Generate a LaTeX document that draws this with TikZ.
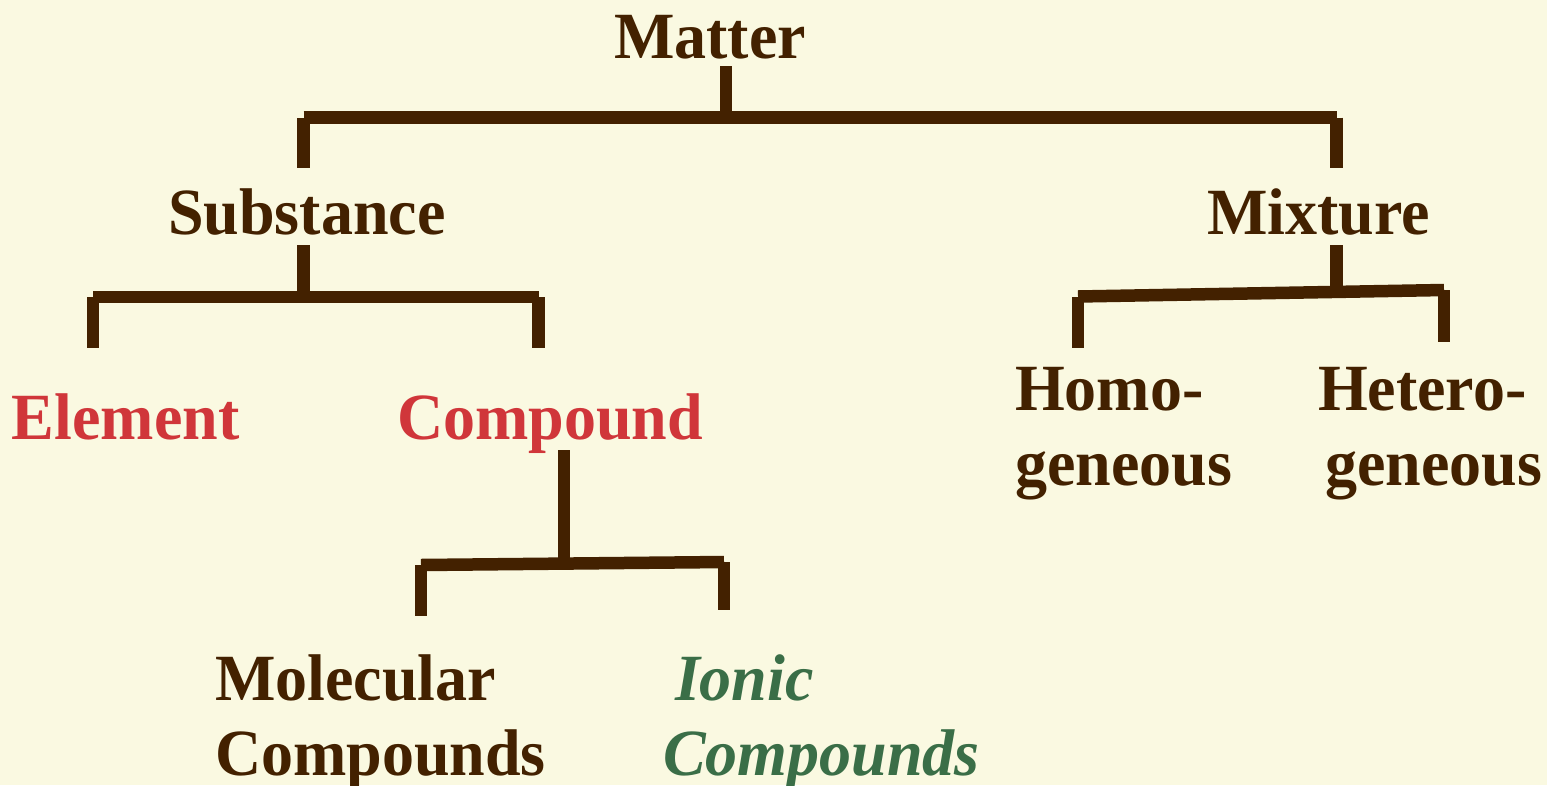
\documentclass[tikz,border=0pt]{standalone}
\usepackage{fontspec}
\newfontfamily\lbl{Liberation Serif}[FakeStretch=0.97]
\definecolor{bg}{HTML}{FAF9E1}
\definecolor{brn}{HTML}{432100}
\definecolor{rd}{HTML}{D0363A}
\definecolor{grn}{HTML}{3A6E47}
\newcommand{\twoline}[2]{\vtop{\baselineskip=75pt\hbox{#1}\hbox{#2}}}
\tikzset{
  lab/.style={inner sep=0pt, outer sep=0pt, anchor=base west, font=\lbl\fontsize{66}{75}\selectfont\bfseries, text=brn},
  redlab/.style={lab, text=rd},
  grnlab/.style={lab, text=grn, font=\lbl\fontsize{66}{75}\selectfont\bfseries\itshape},
  br/.style={draw=brn, line width=12.5pt, line cap=butt}
}
\begin{document}
\begin{tikzpicture}[x=1pt,y=-1pt]
\fill[bg] (0,0) rectangle (1547,785);
\useasboundingbox (0,0) rectangle (1547,785);
% labels
\node[lab] (matter) at (614,58) {Matter};
\node[lab] (subst) at (168,234) {Substance};
\node[lab] (mix) at (1207,234) {Mixture};
\node[redlab] (elem) at (12,439) {Element};
\node[redlab] (comp) at (397,439) {Compound};
\node[lab] (homo) at (1015,410) {\twoline{Homo-}{geneous}};
\node[lab] (hetero) at (1318,410) {\twoline{Hetero-}{\kern7pt geneous}};
\node[lab] (molec) at (215,700) {\twoline{Molecular}{Compounds}};
\node[grnlab] (ionic) at (663,700) {\twoline{\kern12pt Ionic}{Compounds}};
% bracket points
\coordinate (m0) at (726,66);   \coordinate (m1) at (726,117.5);
\coordinate (mL) at (303.5,117.5); \coordinate (mR) at (1336.5,117.5);
\coordinate (mLd) at (303.5,168); \coordinate (mRd) at (1336.5,168);
\coordinate (s0) at (303.5,245); \coordinate (s1) at (303.5,297);
\coordinate (sL) at (93,297); \coordinate (sR) at (538.5,297);
\coordinate (sLd) at (93,348); \coordinate (sRd) at (538.5,348);
\coordinate (x0) at (1336.5,245); \coordinate (x1) at (1336.5,291);
\coordinate (xL) at (1078,296.5); \coordinate (xR) at (1444,290);
\coordinate (xLd) at (1078,348); \coordinate (xRd) at (1444,342);
\coordinate (c0) at (564,450); \coordinate (c1) at (564,563.5);
\coordinate (cL) at (421,565); \coordinate (cR) at (724,562);
\coordinate (cLd) at (421,616); \coordinate (cRd) at (724,610);
% brackets
\draw[br] (m0) -- (m1);
\draw[br] (mL) -- (mR);
\draw[br] (mL) -- (mLd);
\draw[br] (mR) -- (mRd);
\draw[br] (s0) -- (s1);
\draw[br] (sL) -- (sR);
\draw[br] (sL) -- (sLd);
\draw[br] (sR) -- (sRd);
\draw[br] (x0) -- (x1);
\draw[br] (xL) -- (xR);
\draw[br] (xL) -- (xLd);
\draw[br] (xR) -- (xRd);
\draw[br] (c0) -- (c1);
\draw[br] (cL) -- (cR);
\draw[br] (cL) -- (cLd);
\draw[br] (cR) -- (cRd);
\end{tikzpicture}
\end{document}
